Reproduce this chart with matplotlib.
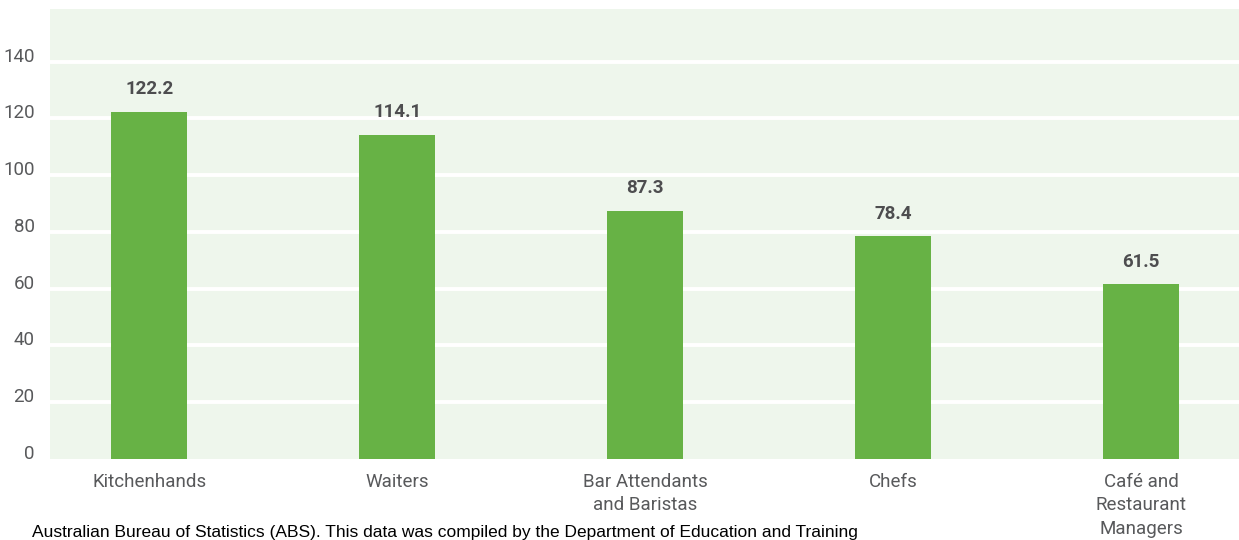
import matplotlib
matplotlib.use("Agg")
import matplotlib.pyplot as plt
from matplotlib import font_manager

categories = ["Kitchenhands", "Waiters", "Bar Attendants\nand Baristas", "Chefs",
              "Café and\nRestaurant\nManagers"]
values = [122.2, 114.1, 87.3, 78.4, 61.5]
yticks = [0, 20, 40, 60, 80, 100, 120, 140]
source_note = ("Australian Bureau of Statistics (ABS). This data was compiled by the "
               "Department of Education and Training")

available = {f.name for f in font_manager.fontManager.ttflist}
narrow = "Liberation Sans Narrow" if "Liberation Sans Narrow" in available else "Roboto"

BAR = "#67b245"
BG = "#eef6ec"
LABEL = "#58595b"
VALUE = "#4d4d4f"

W, H = 1239, 540
fig = plt.figure(figsize=(W / 100, H / 100), dpi=100)
ax = fig.add_axes([50 / W, 1 - 459 / H, (W - 50) / W, 450 / H])
ax.set_facecolor(BG)

x = list(range(len(categories)))
ax.bar(x, values, width=0.306, color=BAR, zorder=3)

ax.set_xlim(-0.4, 4.395)
ax.set_ylim(0, 158.5)
ax.set_yticks(yticks)
ax.set_yticklabels([str(v) for v in yticks])
ax.set_xticks(x)
ax.set_xticklabels(categories, linespacing=1.4)

for gy in yticks[1:]:
    ax.axhline(gy, color="white", lw=2.8, zorder=1)

for s in ax.spines.values():
    s.set_visible(False)
ax.tick_params(axis="both", length=0, labelsize=13.5, labelcolor=LABEL)
ax.tick_params(axis="x", pad=10)
ax.tick_params(axis="y", pad=11)
for t in ax.get_yticklabels():
    t.set_fontfamily(narrow)
    t.set_va("baseline")
for t in ax.get_xticklabels():
    t.set_fontfamily(narrow)

for xi, v in zip(x, values):
    ax.annotate(f"{v:.1f}", (xi, v), xytext=(0, 10), textcoords="offset points",
                ha="center", va="bottom", fontsize=13.5, fontweight="bold",
                color=VALUE, family=narrow)

fig.text(32 / W, 1 - 537 / H, source_note, ha="left", va="baseline", fontsize=12.5,
         color="black", family="Liberation Sans")

fig.savefig("out.png", dpi=100)
